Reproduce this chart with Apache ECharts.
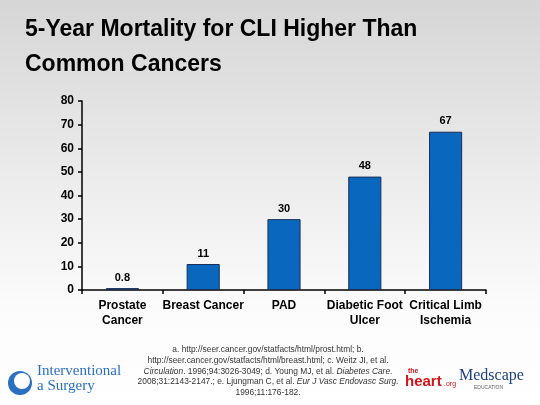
<!DOCTYPE html>
<html>
<head>
<meta charset="utf-8">
<script src="https://cdn.jsdelivr.net/npm/echarts@6/dist/echarts.min.js"></script>
<style>html,body{margin:0;padding:0;}#c{width:540px;height:405px;}</style>
</head>
<body>
<div id="c"></div>
<script>
var categories = ['Prostate\nCancer', 'Breast Cancer', 'PAD', 'Diabetic Foot\nUlcer', 'Critical Limb\nIschemia'];
var values = [0.8, 11, 30, 48, 67];
var valueLabels = ['0.8', '11', '30', '48', '67'];
var yTicks = [0, 10, 20, 30, 40, 50, 60, 70, 80];
var titleLines = ['5-Year Mortality for CLI Higher Than', 'Common Cancers'];
var footLines = [
  'a. http://seer.cancer.gov/statfacts/html/prost.html; b.',
  'http://seer.cancer.gov/statfacts/html/breast.html; c. Weitz JI, et al.',
  '{i|Circulation}. 1996;94:3026-3049; d. Young MJ, et al. {i|Diabetes Care}.',
  '2008;31:2143-2147.; e. Ljungman C, et al. {i|Eur J Vasc Endovasc Surg}.',
  '1996;11:176-182.'
];

var chart = echarts.init(document.getElementById('c'), null, {renderer: 'canvas'});
var F = 'Liberation Sans, Arial, sans-serif';
var graphics = [
  {type: 'rect', z: -10, silent: true, shape: {x: 0, y: 0, width: 540, height: 405},
    style: {fill: new echarts.graphic.LinearGradient(0, 0, 0, 1, [
      {offset: 0, color: '#d6d6d6'}, {offset: 0.75, color: '#fbfbfb'}, {offset: 1, color: '#ffffff'}])}},
  {type: 'text', x: 25, y: 30, style: {text: titleLines[0], font: 'bold 23px ' + F, fill: '#000', verticalAlign: 'middle'}},
  {type: 'text', x: 25, y: 65, style: {text: titleLines[1], font: 'bold 23px ' + F, fill: '#000', verticalAlign: 'middle'}},
  {type: 'circle', shape: {cx: 20, cy: 383, r: 12}, style: {fill: '#2a6fc0'}},
  {type: 'circle', shape: {cx: 22, cy: 381, r: 8}, style: {fill: '#ffffff'}},
  {type: 'text', x: 37, y: 364, style: {text: 'Interventional\na Surgery', font: '15px Liberation Serif, serif', fill: '#2a6fc0', lineHeight: 15}},
  {type: 'text', x: 405, y: 374, style: {text: 'heart', font: 'bold 15px ' + F, fill: '#d0151b'}},
  {type: 'text', x: 408, y: 368, style: {text: 'the', font: 'bold 7px ' + F, fill: '#d0151b'}},
  {type: 'text', x: 444, y: 381, style: {text: '.org', font: '7px ' + F, fill: '#d0151b'}},
  {type: 'text', x: 459, y: 368, style: {text: 'Medscape', font: '16px Liberation Serif, serif', fill: '#1d3f7a'}},
  {type: 'text', x: 474, y: 385, style: {text: 'EDUCATION', font: '5px ' + F, fill: '#666'}}
];
footLines.forEach(function (t, i) {
  graphics.push({type: 'text', x: 268, y: 350 + i * 10.6, style: {
    text: t, font: '8.4px ' + F, fill: '#333', align: 'center', verticalAlign: 'middle',
    rich: {i: {fontStyle: 'italic', fontSize: 8.4, fontFamily: F, fill: '#333'}}
  }});
});

chart.setOption({
  animation: false,
  grid: {left: 82, right: 54, top: 101, bottom: 115, containLabel: false},
  xAxis: {
    type: 'category',
    data: categories,
    axisLine: {lineStyle: {color: '#000', width: 1.5}},
    axisTick: {show: true, length: 4, lineStyle: {color: '#000', width: 1.5}},
    axisLabel: {color: '#000', fontWeight: 'bold', fontSize: 12, fontFamily: F, margin: 8, lineHeight: 15, interval: 0}
  },
  yAxis: {
    type: 'value', min: 0, max: 80, interval: 10,
    axisLine: {show: true, lineStyle: {color: '#000', width: 1.5}},
    axisTick: {show: true, length: 4, lineStyle: {color: '#000', width: 1.5}},
    splitLine: {show: false},
    axisLabel: {color: '#000', fontWeight: 'bold', fontSize: 12, fontFamily: F, margin: 8}
  },
  series: [{
    type: 'bar',
    data: values,
    barWidth: '41%',
    itemStyle: {color: '#0A67BE', borderColor: '#1B2F57', borderWidth: 1},
    label: {show: true, position: 'top', distance: 5, color: '#000', fontWeight: 'bold', fontSize: 11, fontFamily: F,
      formatter: function (p) { return valueLabels[p.dataIndex]; }}
  }],
  graphic: graphics
});
</script>
</body>
</html>
